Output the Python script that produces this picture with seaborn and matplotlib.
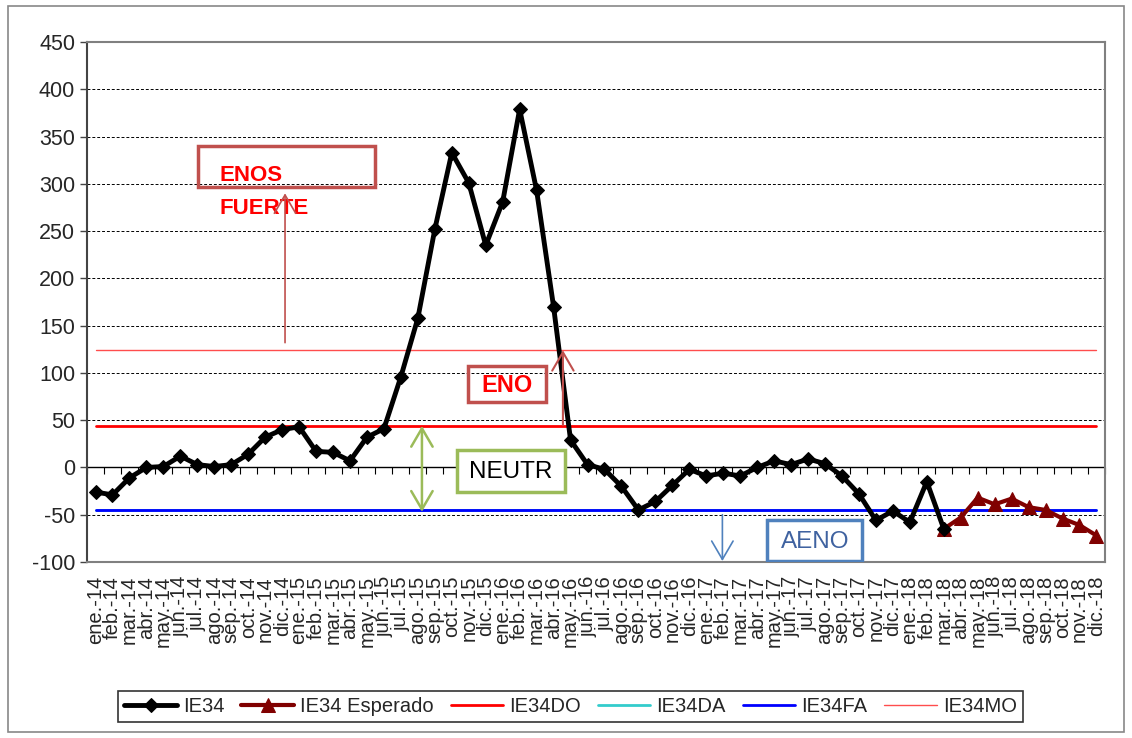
import numpy as np
import pandas as pd
import matplotlib.pyplot as plt
from matplotlib.patches import Rectangle
import seaborn as sns

sns.set_style('white')
plt.rcParams['font.family'] = ['Liberation Sans', 'DejaVu Sans']
plt.rcParams['axes.unicode_minus'] = False

meses = ['ene.', 'feb.', 'mar.', 'abr.', 'may.', 'jun.', 'jul.', 'ago.', 'sep.', 'oct.', 'nov.', 'dic.']
anios = ['14', '15', '16', '17', '18']
etiquetas = [f'{m}-{a}' for a in anios for m in meses]

ie34 = [-26, -29, -11, 0, 1, 12, 3, 1, 3, 14, 32, 40,
        43, 17, 16, 7, 32, 41, 96, 158, 252, 333, 301, 235,
        281, 379, 293, 170, 29, 3, -2, -20, -45, -36, -19, -2,
        -9, -6, -9, 0, 7, 3, 9, 4, -9, -28, -56, -46,
        -58, -15, -65]
ie34_esperado = [-65, -53, -32, -39, -33, -42, -45, -54, -61, -72]
ie34do = 44
ie34da = -45
ie34fa = -45
ie34mo = 124

n = len(etiquetas)
df_obs = pd.DataFrame({'mes': range(len(ie34)), 'valor': ie34})
df_esp = pd.DataFrame({'mes': range(n - len(ie34_esperado), n), 'valor': ie34_esperado})
df_umbral = pd.DataFrame({'mes': range(n),
                          'IE34DO': np.full(n, ie34do),
                          'IE34DA': np.full(n, ie34da),
                          'IE34FA': np.full(n, ie34fa),
                          'IE34MO': np.full(n, ie34mo)})

fig = plt.figure(figsize=(11.32, 7.38), dpi=100)
ax = fig.add_axes([0.0769, 0.2385, 0.8992, 0.7045])

# grid dashed
for yv in range(-100, 451, 50):
    if yv != 0:
        ax.axhline(yv, color='black', linestyle=(0, (3, 2)), linewidth=0.7, zorder=0)
ax.axhline(0, color='black', linewidth=1.0, zorder=1)

sns.lineplot(data=df_umbral, x='mes', y='IE34DA', color='#33cccc', linewidth=2, label='IE34DA', ax=ax)
sns.lineplot(data=df_umbral, x='mes', y='IE34FA', color='#0000ff', linewidth=2, label='IE34FA', ax=ax)
sns.lineplot(data=df_umbral, x='mes', y='IE34DO', color='#ff0000', linewidth=2, label='IE34DO', ax=ax)
sns.lineplot(data=df_umbral, x='mes', y='IE34MO', color='#ff4d4d', linewidth=1, label='IE34MO', ax=ax)
sns.lineplot(data=df_obs, x='mes', y='valor', color='black', linewidth=3.5, marker='D',
             markersize=7, markeredgecolor='black', label='IE34', ax=ax, zorder=5)
sns.lineplot(data=df_esp, x='mes', y='valor', color='#800000', linewidth=3, marker='^',
             markersize=10, markeredgecolor='#800000', label='IE34 Esperado', ax=ax, zorder=4)

ax.set_xlim(-0.5, n - 0.5)
ax.set_ylim(-100, 450)
ax.set_yticks(range(-100, 451, 50))
ax.set_xticks(range(n))
ax.set_xticklabels(etiquetas, rotation=90, fontsize=14.5, va='top', ha='center')
ax.tick_params(axis='x', length=0, pad=10)
ax.tick_params(axis='y', labelsize=15.5, length=5, direction='out', left=True, color='#444444', width=1)
ax.set_xlabel('')
ax.set_ylabel('')
for s in ax.spines.values():
    s.set_color('#808080')
    s.set_linewidth(1.5)
ax.spines['left'].set_color('#444444')

# x axis ticks on the zero line
sec = ax.secondary_xaxis(100 / 550)
sec.set_xticks(np.arange(-0.5, n, 1))
sec.tick_params(axis='x', direction='out', length=5, labelbottom=False, labeltop=False, color='black')
sec.spines['bottom'].set_visible(False)
sec.spines['top'].set_visible(False)

# annotations
c_rojo = '#c0504d'
flecha = '->,head_length=0.6,head_width=0.35'
ax.add_patch(Rectangle((6.04, 297), 10.43, 43, fill=False, edgecolor=c_rojo, linewidth=2.5, zorder=6))
ax.text(7.3, 309, 'ENOS', color='#ff0000', fontsize=16, fontweight='bold', va='center', zorder=7)
ax.text(7.3, 274, 'FUERTE', color='#ff0000', fontsize=16, fontweight='bold', va='center', zorder=7)
ax.annotate('', xy=(11.17, 290), xytext=(11.17, 132), zorder=7,
            arrowprops=dict(arrowstyle=flecha, color=c_rojo, lw=1.2, mutation_scale=22,
                            shrinkA=0, shrinkB=0))

ax.add_patch(Rectangle((21.95, 69), 4.6, 38, fill=False, edgecolor=c_rojo, linewidth=2.5, zorder=6))
ax.text(24.25, 87, 'ENO', color='#ff0000', fontsize=17, fontweight='bold', ha='center', va='center', zorder=7)
ax.annotate('', xy=(27.55, 124), xytext=(27.55, 45), zorder=7,
            arrowprops=dict(arrowstyle=flecha, color=c_rojo, lw=1.5, mutation_scale=22,
                            shrinkA=0, shrinkB=0))

ax.annotate('', xy=(19.24, 44), xytext=(19.24, -47), zorder=7,
            arrowprops=dict(arrowstyle='<->,head_length=0.6,head_width=0.35', color='#9bbb59', lw=1.8,
                            mutation_scale=22, shrinkA=0, shrinkB=0))
ax.add_patch(Rectangle((21.3, -26), 6.36, 44.5, facecolor='white', edgecolor='#9bbb59', linewidth=2.5, zorder=6))
ax.text(24.48, -5, 'NEUTR', color='black', fontsize=17.5, ha='center', va='center', zorder=7)

ax.annotate('', xy=(36.95, -99), xytext=(36.95, -50), zorder=7,
            arrowprops=dict(arrowstyle=flecha, color='#4f81bd', lw=1.2, mutation_scale=22,
                            shrinkA=0, shrinkB=0))
ax.add_patch(Rectangle((39.6, -99), 5.6, 43, facecolor='white', edgecolor='#4f81bd', linewidth=2.5, zorder=6))
ax.text(42.4, -79, 'AENO', color='#3f62a0', fontsize=17.5, ha='center', va='center', zorder=7)

# legend
handles, labels = ax.get_legend_handles_labels()
orden = ['IE34', 'IE34 Esperado', 'IE34DO', 'IE34DA', 'IE34FA', 'IE34MO']
hmap = dict(zip(labels, handles))
leg = ax.legend([hmap[k] for k in orden], orden, ncol=6, loc='center',
                bbox_to_anchor=(0.504, 0.043), bbox_transform=fig.transFigure,
                fontsize=14.5, frameon=True, fancybox=False, handlelength=2.6,
                handletextpad=0.3, columnspacing=0.85, borderpad=0.3)
leg.get_frame().set_edgecolor('black')
leg.get_frame().set_linewidth(1.2)

fig.patches.append(Rectangle((0.007, 0.008), 0.986, 0.984, transform=fig.transFigure,
                             fill=False, edgecolor='#888888', linewidth=1.2))

fig.savefig('out.png', dpi=100)
